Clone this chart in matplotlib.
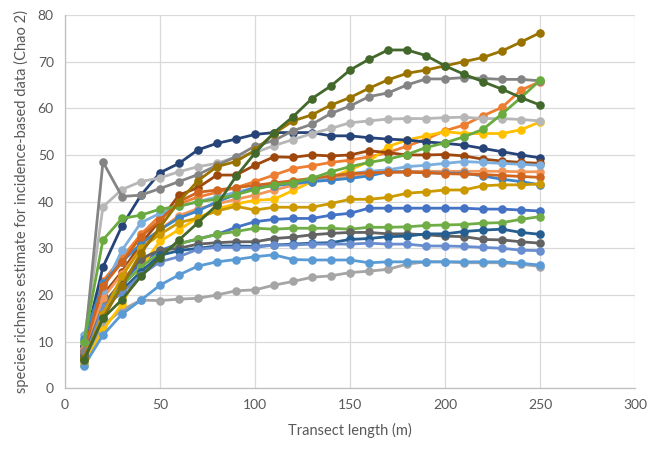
import matplotlib
matplotlib.use("Agg")
import matplotlib.pyplot as plt

plt.rcParams['font.family'] = ['Lato', 'DejaVu Sans']

transect = [10, 20, 30, 40, 50, 60, 70, 80, 90, 100, 110, 120, 130, 140, 150,
            160, 170, 180, 190, 200, 210, 220, 230, 240, 250]

s_blue = [7, 17.5, 22.5, 27, 29.5, 31, 32, 33, 34.5, 35.7, 36.2, 36.4, 36.4, 37.1, 37.5,
          38.6, 38.6, 38.6, 38.6, 38.6, 38.6, 38.4, 38.4, 38.2, 38]
s_orange = [9, 23, 28, 33, 37, 39.5, 41, 42, 43, 44.3, 45.7, 47.1, 47.7, 48.4, 48.9,
            49.6, 50.5, 51.9, 53.4, 55.2, 56.4, 58.4, 60.2, 63.9, 65.7]
s_gray = [5.5, 13.5, 16.8, 18.9, 18.8, 19.1, 19.3, 20, 20.9, 21.1, 22.1, 22.9, 23.8, 24.1, 24.8,
          25.1, 25.5, 26.6, 27.1, 27.1, 26.9, 26.9, 26.9, 26.6, 26.1]
s_yellow = [5, 12.5, 18, 26, 31.5, 34, 36.5, 38.5, 39.5, 40.3, 40.5, 42.4, 44.3, 45.2, 46.8,
            48.6, 51.8, 53.2, 54.1, 55, 54.6, 54.6, 54.6, 55.4, 57.1]
s_ltblue = [4.8, 11.4, 15.9, 18.9, 22.1, 24.3, 26.2, 27.1, 27.6, 28.2, 28.6, 27.6, 27.5, 27.5, 27.5,
            26.9, 27.1, 27.1, 27.1, 27.1, 27.1, 27.1, 27.1, 26.8, 26.4]
s_green = [10, 31.8, 36.4, 37.1, 38.4, 39, 40, 40.5, 41.5, 42.6, 43.6, 44.1, 45, 46.4, 47.5,
           48.4, 49.1, 50.1, 51.6, 52.6, 53.9, 55.5, 58.8, 62.3, 66]
s_dkblue = [9, 26, 34.8, 41.4, 46.2, 48.2, 51.1, 52.5, 53.4, 54.4, 54.8, 54.8, 54.8, 54.1, 54.1,
            53.7, 53.4, 53.2, 52.8, 52.5, 52.1, 51.4, 50.7, 50, 49.4]
s_brown = [7.5, 20, 25, 31, 36, 41.4, 43, 45.7, 45.7, 47.8, 49.6, 49.5, 50, 49.8, 50,
           50.9, 50.5, 50, 50, 50.1, 49.8, 49.1, 48.7, 48.4, 48.2]
s_dkgray = [8, 18, 22.9, 27.8, 29.6, 30, 30.9, 31.2, 31.4, 31.4, 32.1, 32.4, 32.9, 33.2, 33.4,
            33.4, 33.1, 33.1, 32.9, 32.6, 32.5, 31.9, 31.8, 31.4, 31.1]
s_gold = [6.5, 15, 22, 29, 34.5, 40, 44.5, 47.5, 48.6, 51, 54.6, 57.3, 58.6, 60.7, 62.3,
          64.3, 66.1, 67.5, 68.2, 69.1, 70, 70.9, 72.3, 74.2, 76.2]
s_dkblue2 = [7, 16.8, 21, 25, 28.5, 29.5, 30, 30.5, 30.5, 30.4, 30.7, 30.9, 31.1, 31.2, 31.9,
             32.1, 32.5, 32.6, 33.1, 33.1, 33.6, 33.9, 34.1, 33.4, 33]
s_dkgreen = [6, 15, 19, 24, 28, 31.8, 35.5, 39.3, 45.4, 50.4, 54.8, 58.2, 62.1, 64.8, 68.2,
             70.5, 72.5, 72.5, 71.3, 69.1, 67.3, 65.7, 64.1, 62.3, 60.7]
s_periwinkle = [6, 17.5, 20.4, 24.3, 27.1, 28.2, 29.8, 30.2, 30.2, 30.2, 30.7, 30.7, 30.9, 30.9, 30.9,
                31.1, 30.9, 30.9, 30.5, 30.5, 30.4, 30.2, 30, 29.6, 29.5]
s_ltorange = [8.5, 19.3, 24.6, 30, 34, 37, 38.5, 39.5, 40.5, 41.4, 42.5, 43.5, 44.5, 45, 45.5,
              46, 46.3, 46.5, 46.5, 46.5, 46.5, 46.5, 46.5, 46.4, 46.4]
s_ltgray = [10, 38.9, 42.6, 44.3, 45.1, 46.4, 47.5, 48.2, 49.6, 50.5, 52, 53.3, 54.6, 55.7, 56.9,
            57.3, 57.7, 57.8, 57.8, 58, 58.1, 57.8, 57.8, 57.6, 57.3]
s_skyblue = [11.5, 21, 29.6, 35.5, 37.5, 39, 40, 41, 42, 43, 43.5, 44, 44.5, 45.5, 46,
             46.5, 46.8, 47.5, 47.8, 48.2, 48.6, 48.4, 48.2, 48, 47.8]
s_midblue = [10.5, 22.5, 27.1, 31, 34, 36.5, 38, 40, 41.5, 43, 43.4, 43.9, 44.3, 44.6, 45,
             45.5, 46.4, 46.4, 46.2, 46.1, 46.1, 45.5, 44.8, 44.3, 43.6]
s_green2 = [6.5, 17, 22, 26, 29, 31, 32, 33, 33.6, 34.3, 34.1, 34.3, 34.3, 34.3, 34.1,
            34.5, 34.5, 34.6, 34.9, 35, 35.1, 35.4, 35.5, 36.2, 36.8]
s_dkorange = [8, 22, 27, 32.5, 36, 40, 42, 42.5, 43, 43.5, 44, 44.5, 45, 45.5, 46,
              46.2, 46.3, 46.3, 46.2, 46, 45.9, 45.8, 45.6, 45.4, 45.2]
s_gray2 = [8, 48.5, 41.1, 41.4, 42.8, 44.3, 45.8, 47.8, 49.6, 51.9, 53.1, 55.2, 56.6, 58.9, 60.5,
           62.5, 63.3, 65, 66.3, 66.3, 66.6, 66.4, 66.2, 66.2, 65.9]
s_dkyellow = [6, 16, 24, 30, 33, 35.5, 36.5, 38, 39, 38.2, 38.8, 38.8, 38.8, 39.6, 40.5,
              40.5, 40.9, 41.8, 42.1, 42.5, 42.5, 43.4, 43.6, 43.6, 43.8]

series = [
    (s_blue, '#4472C4'), (s_orange, '#ED7D31'), (s_gray, '#A5A5A5'), (s_yellow, '#FFC000'),
    (s_ltblue, '#5B9BD5'), (s_green2, '#70AD47'), (s_dkblue, '#264478'), (s_brown, '#9E480E'),
    (s_dkgray, '#636363'), (s_dkblue2, '#255E91'),
    (s_periwinkle, '#698ED0'), (s_ltorange, '#F1975A'), (s_ltgray, '#B7B7B7'),
    (s_skyblue, '#7CAFDD'), (s_midblue, '#3D85C6'), (s_dkorange, '#D0661E'),
    (s_gray2, '#848484'), (s_dkyellow, '#CC9A00'), (s_green, '#6AAB3F'),
    (s_gold, '#997300'), (s_dkgreen, '#43682B'),
]

fig = plt.figure(figsize=(6.61, 4.54), dpi=100)
ax = fig.add_axes([0.0983, 0.1447, 0.8624, 0.8223])

for vals, col in series:
    ax.plot(transect, vals, color=col, lw=2.0, marker='o', markersize=6.2,
            markeredgewidth=0, zorder=3)

ax.set_xlim(0, 300)
ax.set_ylim(0, 80)
ax.set_xticks(range(0, 301, 50))
ax.set_yticks(range(0, 81, 10))
ax.grid(True, color='#d9d9d9', lw=0.9, zorder=0)
for sp in ['top', 'right']:
    ax.spines[sp].set_visible(False)
for sp in ['left', 'bottom']:
    ax.spines[sp].set_color('#bfbfbf')
    ax.spines[sp].set_linewidth(0.9)
ax.tick_params(length=0, labelsize=10, colors='#595959', pad=8)
ax.set_xlabel('Transect length (m)', fontsize=10.5, color='#595959', labelpad=8)
ax.set_ylabel('species richness estimate for incidence-based data (Chao 2)',
              fontsize=10.5, color='#595959', labelpad=6)

fig.savefig('out.png', dpi=100)
